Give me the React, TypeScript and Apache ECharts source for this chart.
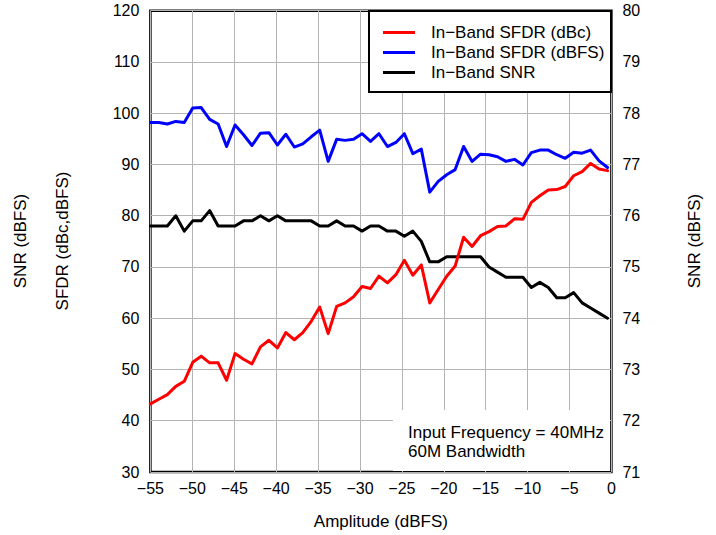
import React, { useEffect, useRef } from "react";
import * as echarts from "echarts";

const amplitude = [
  -55, -53.99, -52.98, -51.97, -50.96, -49.95, -48.94, -47.93, -46.92, -45.91,
  -44.9, -43.89, -42.88, -41.87, -40.86, -39.85, -38.84, -37.83, -36.82, -35.81,
  -34.8, -33.79, -32.78, -31.77, -30.76, -29.75, -28.74, -27.73, -26.72, -25.71,
  -24.7, -23.69, -22.68, -21.67, -20.66, -19.65, -18.64, -17.63, -16.62, -15.61,
  -14.6, -13.59, -12.58, -11.57, -10.56, -9.55, -8.54, -7.53, -6.52, -5.51,
  -4.5, -3.49, -2.48, -1.47, -0.46,
];

const sfdrDbc = [
  43.3, 44.2, 45.1, 46.7, 47.7, 51.4, 52.6, 51.3, 51.3, 47.9,
  53.1, 52.0, 51.1, 54.4, 55.7, 54.2, 57.2, 55.8, 57.2, 59.4,
  62.2, 57.0, 62.3, 63.0, 64.2, 66.2, 65.8, 68.2, 66.9, 68.5,
  71.3, 68.4, 70.4, 63.0, 65.6, 68.2, 70.2, 75.8, 74.0, 76.1,
  76.9, 77.9, 78.0, 79.4, 79.3, 82.6, 83.9, 85.0, 85.1, 85.7,
  87.8, 88.6, 90.2, 89.1, 88.8,
];

const sfdrDbfs = [
  98.2, 98.2, 97.9, 98.4, 98.2, 101.0, 101.1, 98.8, 97.9, 93.5,
  97.7, 95.8, 93.7, 96.1, 96.2, 93.8, 95.9, 93.4, 94.0, 95.4,
  96.7, 90.6, 94.9, 94.7, 94.9, 96.0, 94.5, 96.0, 93.5, 94.3,
  96.0, 92.1, 93.0, 84.6, 86.7, 88.0, 89.0, 93.5, 90.6, 92.0,
  91.9, 91.5, 90.6, 91.0, 89.9, 92.3, 92.8, 92.8, 91.9, 91.2,
  92.4, 92.2, 92.8, 90.7, 89.4,
];

const snr = [
  75.8, 75.8, 75.8, 76.0, 75.7, 75.9, 75.9, 76.1, 75.8, 75.8,
  75.8, 75.9, 75.9, 76.0, 75.9, 76.0, 75.9, 75.9, 75.9, 75.9,
  75.8, 75.8, 75.9, 75.8, 75.8, 75.7, 75.8, 75.8, 75.7, 75.7,
  75.6, 75.7, 75.5, 75.1, 75.1, 75.2, 75.2, 75.2, 75.2, 75.2,
  75.0, 74.9, 74.8, 74.8, 74.8, 74.6, 74.7, 74.6, 74.4, 74.4,
  74.5, 74.3, 74.2, 74.1, 74.0,
];

const seriesNames = ["In\u2212Band SFDR (dBc)", "In\u2212Band SFDR (dBFS)", "In\u2212Band SNR"];
const annotationLines = ["Input Frequency = 40MHz", "60M Bandwidth"];
const xTitle = "Amplitude (dBFS)";
const leftTitle = "SFDR (dBc,dBFS)";
const snrTitle = "SNR (dBFS)";

const FONT = "'Liberation Sans', Arial, Helvetica, sans-serif";

export default function App() {
  const ref = useRef<HTMLDivElement>(null);
  useEffect(() => {
    if (!ref.current) return;
    const chart = echarts.init(ref.current, null, { renderer: "svg" });
    const pair = (ys: number[]) => amplitude.map((x, i) => [x, ys[i]]);
    const minus = (v: number) => String(v).replace("-", "\u2212");
    chart.setOption({
      animation: false,
      textStyle: { fontFamily: FONT },
      grid: {
        left: 150.4,
        top: 10.7,
        right: 104.6,
        bottom: 62.6,
        show: true,
        borderColor: "#000",
        borderWidth: 2.5,
        backgroundColor: "transparent",
      },
      legend: {
        data: seriesNames,
        orient: "vertical",
        left: 383,
        top: 24,
        padding: 0,
        itemGap: 3,
        itemWidth: 32,
        itemHeight: 3,
        icon: "rect",
        z: 20,
        textStyle: { fontSize: 17, color: "#000", fontFamily: FONT, padding: [0, 0, 0, 11], lineHeight: 17 },
      },
      xAxis: {
        type: "value",
        min: -55,
        max: 0,
        interval: 5,
        name: xTitle,
        nameLocation: "middle",
        nameGap: 41,
        nameTextStyle: { fontSize: 17, color: "#000", fontFamily: FONT },
        axisLine: { show: false },
        axisTick: { show: false },
        axisLabel: { fontSize: 16, color: "#000", margin: 8, formatter: minus, fontFamily: FONT },
        splitLine: { show: true, lineStyle: { color: "#b4b4b4", width: 1 } },
      },
      yAxis: [
        {
          type: "value",
          min: 30,
          max: 120,
          interval: 10,
          axisLine: { show: false },
          axisTick: { show: false },
          axisLabel: { fontSize: 16, color: "#000", margin: 11, fontFamily: FONT },
          splitLine: { show: true, lineStyle: { color: "#b4b4b4", width: 1 } },
        },
        {
          type: "value",
          min: 71,
          max: 80,
          interval: 1,
          position: "right",
          axisLine: { show: false },
          axisTick: { show: false },
          axisLabel: { fontSize: 16, color: "#000", margin: 11, fontFamily: FONT },
          splitLine: { show: false },
        },
      ],
      graphic: [
        {
          type: "rect",
          z: 15,
          shape: { x: 369, y: 11, width: 242, height: 81 },
          style: { fill: "#fff", stroke: "#000", lineWidth: 2 },
        },
        {
          type: "rect",
          z: 15,
          shape: { x: 393, y: 410, width: 217, height: 61 },
          style: { fill: "#fff" },
        },
        {
          type: "text",
          z: 16,
          x: 408,
          y: 432.5,
          style: { text: annotationLines[0], font: `17px ${FONT}`, fill: "#000", verticalAlign: "middle", align: "left" },
        },
        {
          type: "text",
          z: 16,
          x: 408,
          y: 451.5,
          style: { text: annotationLines[1], font: `17px ${FONT}`, fill: "#000", verticalAlign: "middle", align: "left" },
        },
        {
          type: "text",
          x: 62,
          y: 241,
          rotation: Math.PI / 2,
          style: { text: leftTitle, font: `17px ${FONT}`, fill: "#000", verticalAlign: "middle", align: "center" },
        },
        {
          type: "text",
          x: 20,
          y: 241,
          rotation: Math.PI / 2,
          style: { text: snrTitle, font: `17px ${FONT}`, fill: "#000", verticalAlign: "middle", align: "center" },
        },
        {
          type: "text",
          x: 694,
          y: 241,
          rotation: Math.PI / 2,
          style: { text: snrTitle, font: `17px ${FONT}`, fill: "#000", verticalAlign: "middle", align: "center" },
        },
      ],
      series: [
        {
          name: seriesNames[0],
          type: "line",
          data: pair(sfdrDbc),
          showSymbol: false,
          z: 4,
          lineStyle: { color: "#ff0000", width: 3, join: "round", cap: "round" },
          itemStyle: { color: "#ff0000" },
        },
        {
          name: seriesNames[1],
          type: "line",
          data: pair(sfdrDbfs),
          showSymbol: false,
          z: 4,
          lineStyle: { color: "#0000ff", width: 3, join: "round", cap: "round" },
          itemStyle: { color: "#0000ff" },
        },
        {
          name: seriesNames[2],
          type: "line",
          yAxisIndex: 1,
          data: pair(snr),
          showSymbol: false,
          z: 3,
          lineStyle: { color: "#000", width: 3, join: "round", cap: "round" },
          itemStyle: { color: "#000" },
        },
      ],
    });
    return () => chart.dispose();
  }, []);
  return (
    <div
      ref={ref}
      style={{ position: "fixed", left: 0, top: 0, width: 716, height: 535, background: "#fff" }}
    />
  );
}
